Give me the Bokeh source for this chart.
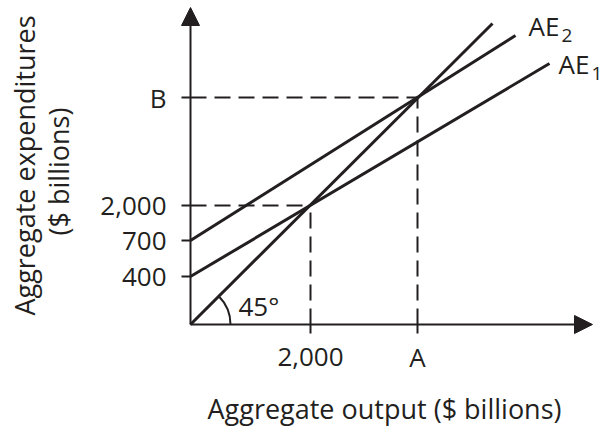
from math import pi
from bokeh.plotting import figure
from bokeh.models import Range1d, Arrow, NormalHead
from bokeh.embed import file_html
from bokeh.resources import INLINE
from bokeh.core.properties import value

# ---- schematic chart data (diagram units) ----
y_ticks = [48, 84, 119, 227]
y_tick_labels = ["400", "700", "2,000", "B"]
x_ticks = [120, 227]
x_tick_labels = ["2,000", "A"]

line45_x = [0, 302]
line45_y = [0, 301]
ae1_x = [0, 359]
ae1_y = [48, 261]
ae2_x = [0, 325]
ae2_y = [84, 289]

eq_x = [120, 227]      # 2,000 and A
eq_y = [119, 227]      # 2,000 and B

x_title = "Aggregate output ($ billions)"
y_title_lines = ["Aggregate expenditures", "($ billions)"]

INK = "#231f20"
FONT = value("Open Sans")

p = figure(width=603, height=427,
           x_range=Range1d(-190, 413), y_range=Range1d(-103, 324),
           x_axis_location=None, y_axis_location=None,
           output_backend="svg", toolbar_location=None,
           min_border=0)
p.outline_line_color = None
p.grid.visible = False
p.background_fill_color = "white"
p.border_fill_color = "white"

# ---- axes (with arrow heads) ----
p.add_layout(Arrow(end=NormalHead(size=18, fill_color=INK, line_color=INK),
                   x_start=0, y_start=0, x_end=0, y_end=317,
                   line_color=INK, line_width=2))
p.add_layout(Arrow(end=NormalHead(size=18, fill_color=INK, line_color=INK),
                   x_start=0, y_start=0, x_end=402, y_end=0,
                   line_color=INK, line_width=2))

# ticks
p.segment(x0=[-9] * len(y_ticks), y0=y_ticks, x1=[0] * len(y_ticks), y1=y_ticks,
          line_color=INK, line_width=2)
p.segment(x0=x_ticks, y0=[0] * len(x_ticks), x1=x_ticks, y1=[-9] * len(x_ticks),
          line_color=INK, line_width=2)

# tick labels
p.text(x=[-24] * len(y_ticks), y=y_ticks, text=y_tick_labels, text_font=FONT,
       text_font_size="26px", text_color=INK, text_align="right",
       text_baseline="middle")
p.text(x=x_ticks, y=[-32] * len(x_ticks), text=x_tick_labels, text_font=FONT,
       text_font_size="26px", text_color=INK, text_align="center",
       text_baseline="middle")

# axis titles
p.text(x=[194], y=[-84], text=[x_title], text_font=FONT,
       text_font_size="27px", text_color=INK, text_align="center",
       text_baseline="middle")
p.text(x=[-166, -132], y=[159, 153], text=y_title_lines, text_font=FONT,
       text_font_size="27px", text_color=INK, text_align="center",
       text_baseline="middle", angle=pi / 2)

# dashed guide lines from the equilibria
p.segment(x0=[0] * len(eq_x), y0=eq_y, x1=eq_x, y1=eq_y,
          line_color=INK, line_width=2, line_dash="16 8")
p.segment(x0=eq_x, y0=[0] * len(eq_x), x1=eq_x, y1=eq_y,
          line_color=INK, line_width=2, line_dash="16 8")

# main lines
p.line(line45_x, line45_y, line_color=INK, line_width=3)
p.line(ae1_x, ae1_y, line_color=INK, line_width=3)
p.line(ae2_x, ae2_y, line_color=INK, line_width=3)

# 45 degree arc + label
p.arc(x=[0], y=[0], radius=40, start_angle=0, end_angle=pi / 4,
      line_color=INK, line_width=2)
p.text(x=[48], y=[19], text=["45°"], text_font=FONT,
       text_font_size="26px", text_color=INK, text_baseline="middle")

# line labels
p.text(x=[338, 368], y=[299, 261], text=["AE", "AE"], text_font=FONT,
       text_font_size="26px", text_color=INK, text_baseline="middle")
p.text(x=[371, 401], y=[289, 251], text=["2", "1"], text_font=FONT,
       text_font_size="19px", text_color=INK, text_baseline="middle")

open("out.html", "w").write(file_html(p, INLINE))
